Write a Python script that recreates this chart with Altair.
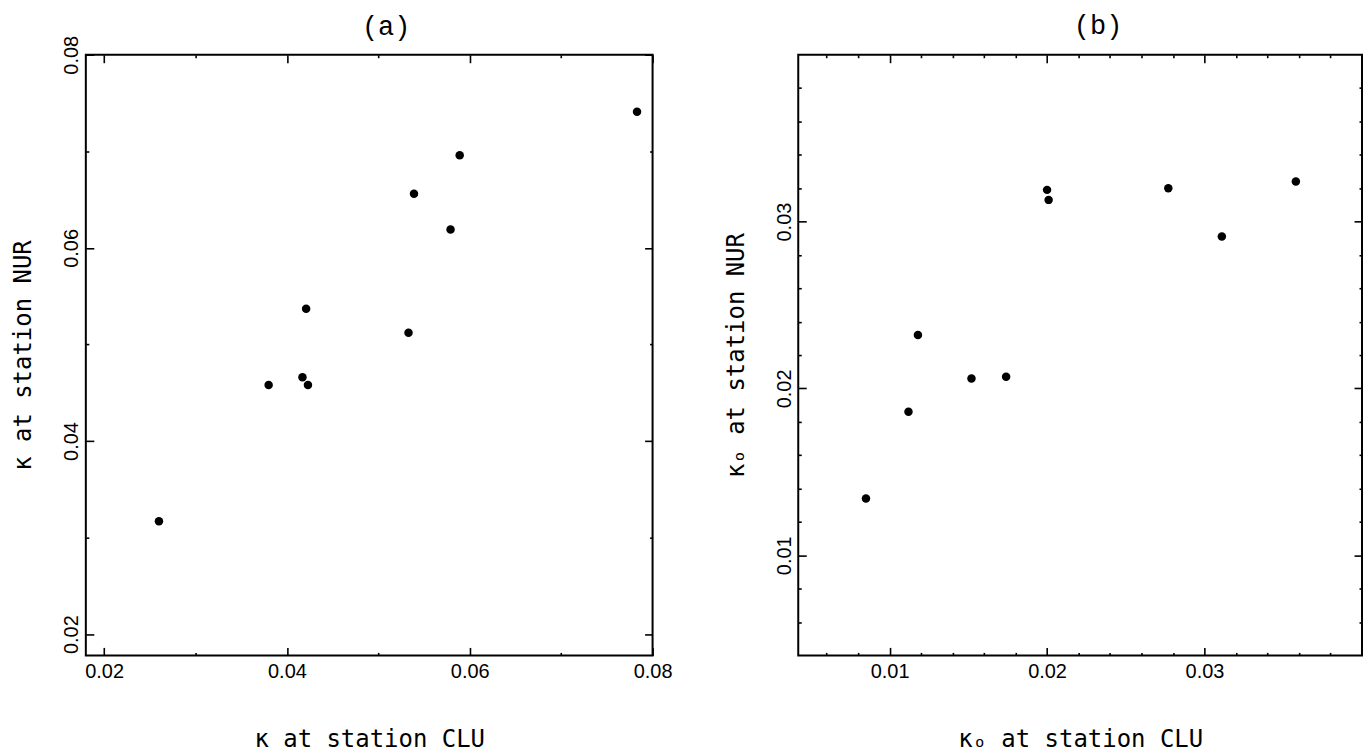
import altair as alt
import pandas as pd

# ---------------- data ----------------
a_x = [0.0260, 0.0380, 0.0417, 0.0423, 0.0421, 0.0533, 0.0539, 0.0579, 0.0589, 0.0783]
a_y = [0.0317, 0.0458, 0.0466, 0.0458, 0.0537, 0.0512, 0.0656, 0.0619, 0.0696, 0.0741]

b_x = [0.0085, 0.0112, 0.0118, 0.0152, 0.0174, 0.0200, 0.0201, 0.0277, 0.0311, 0.0358]
b_y = [0.0134, 0.0186, 0.0232, 0.0206, 0.0207, 0.0319, 0.0313, 0.0320, 0.0291, 0.0324]

a_x_domain = [0.0180, 0.0800]
a_y_domain = [0.0178, 0.0800]
b_x_domain = [0.0042, 0.0400]
b_y_domain = [0.0040, 0.0400]

a_x_major = [0.02, 0.04, 0.06, 0.08]
a_x_minor = [0.03, 0.05, 0.07]
a_y_major = [0.02, 0.04, 0.06, 0.08]
a_y_minor = [0.03, 0.05, 0.07]

b_x_major = [0.01, 0.02, 0.03]
b_x_minor = [0.006, 0.008, 0.012, 0.014, 0.016, 0.018, 0.022, 0.024, 0.026, 0.028,
             0.032, 0.034, 0.036, 0.038]
b_y_major = [0.01, 0.02, 0.03]
b_y_minor = [0.006, 0.008, 0.012, 0.014, 0.016, 0.018, 0.022, 0.024, 0.026, 0.028,
             0.032, 0.034, 0.036, 0.038]

a_title, b_title = "(a)", "(b)"
a_xlabel, a_ylabel = "κ at station CLU", "κ at station NUR"
b_xlabel, b_ylabel = "κₒ at station CLU", "κₒ at station NUR"

MAJ = 8
MIN = 3
LABEL_FONT = "Liberation Sans"
TITLE_FONT = "DejaVu Sans Mono"


def axis(orient, values, size, labels=False, title=None):
    kw = dict(
        orient=orient, values=values, tickSize=size, offset=-size,
        domain=False, grid=False, labels=labels, ticks=True,
        tickColor="black", tickWidth=1.6, minExtent=0,
    )
    if labels:
        kw.update(
            format=".2f", labelFont=LABEL_FONT, labelFontSize=20,
            labelColor="black", labelFlush=False, labelOverlap=False,
            labelPadding=8,
        )
        if orient == "left":
            kw.update(labelAngle=270, labelAlign="center", labelBaseline="alphabetic")
        else:
            kw.update(labelBaseline="top", labelPadding=6)
    if title is not None:
        kw.update(
            title=title, titleFont=TITLE_FONT, titleFontSize=24,
            titleFontWeight="normal", titleColor="black",
            titlePadding=(26 if orient == "left" else 46),
        )
    else:
        kw.update(title=None)
    return alt.Axis(**kw)


def panel(xs, ys, xdom, ydom, xmaj, xmin, ymaj, ymin, xlab, ylab, ttl, w, h, dx, toff):
    df = pd.DataFrame({"x": xs, "y": ys})
    base = alt.Chart(df)
    xsc = alt.Scale(domain=xdom, nice=False, zero=False)
    ysc = alt.Scale(domain=ydom, nice=False, zero=False)

    def layer(xa, ya, visible):
        m = base.mark_circle(size=72, color="black", opacity=1 if visible else 0)
        return m.encode(
            x=alt.X("x:Q", scale=xsc, axis=xa),
            y=alt.Y("y:Q", scale=ysc, axis=ya),
        )

    l1 = layer(axis("bottom", xmaj, MAJ, True, xlab), axis("left", ymaj, MAJ, True, ylab), True)
    l2 = layer(axis("bottom", xmin, MIN), axis("left", ymin, MIN), False)
    l3 = layer(axis("top", xmaj, MAJ), axis("right", ymaj, MAJ), False)
    l4 = layer(axis("top", xmin, MIN), axis("right", ymin, MIN), False)
    return alt.layer(l1, l2, l3, l4).resolve_axis(x="independent", y="independent").properties(
        width=w, height=h,
        title=alt.TitleParams(
            text=ttl, font="Liberation Mono", fontSize=27, fontWeight="normal",
            color="black", anchor="middle", dx=dx, offset=toff, baseline="bottom",
        ),
    )


pa = panel(a_x, a_y, a_x_domain, a_y_domain, a_x_major, a_x_minor, a_y_major, a_y_minor,
           a_xlabel, a_ylabel, a_title, 568, 602, 17, -33)
pb = panel(b_x, b_y, b_x_domain, b_y_domain, b_x_major, b_x_minor, b_y_major, b_y_minor,
           b_xlabel, b_ylabel, b_title, 565, 602, 18, -13)

chart = alt.hconcat(pa, pb, spacing=49).properties(
    padding={"left": 3, "top": 2, "right": 0, "bottom": 0},
    background="white",
).configure_view(stroke="black", strokeWidth=2)

chart.save("out.html", embed_options={"renderer": "svg", "actions": False})
